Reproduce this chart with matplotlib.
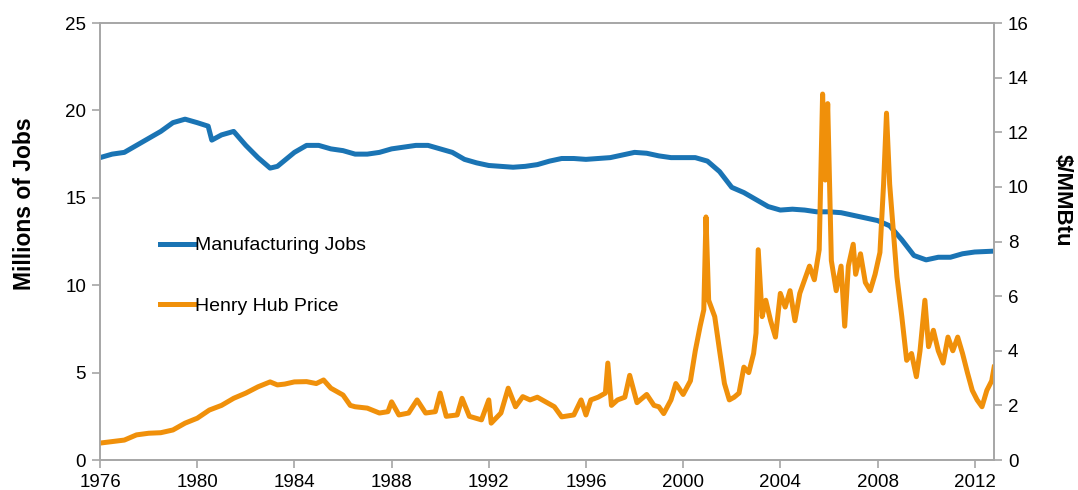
import matplotlib
matplotlib.use("Agg")
import matplotlib.pyplot as plt

plt.rcParams['font.family'] = ['Liberation Sans', 'DejaVu Sans']

# Manufacturing jobs (millions)
jobs_year = [1976.0, 1976.5, 1977.0, 1977.5, 1978.0, 1978.5, 1979.0, 1979.5, 1980.0, 1980.45,
             1980.6, 1981.0, 1981.5, 1982.0, 1982.5, 1983.0, 1983.3, 1984.0, 1984.5, 1985.0,
             1985.5, 1986.0, 1986.5, 1987.0, 1987.5, 1988.0, 1988.5, 1989.0, 1989.5, 1990.0,
             1990.5, 1991.0, 1991.5, 1992.0, 1992.5, 1993.0, 1993.5, 1994.0, 1994.5, 1995.0,
             1995.5, 1996.0, 1996.5, 1997.0, 1997.5, 1998.0, 1998.5, 1999.0, 1999.5, 2000.0,
             2000.5, 2001.0, 2001.5, 2002.0, 2002.5, 2003.0, 2003.5, 2004.0, 2004.5, 2005.0,
             2005.5, 2006.0, 2006.5, 2007.0, 2007.5, 2008.0, 2008.5, 2009.0, 2009.5, 2010.0,
             2010.5, 2011.0, 2011.5, 2012.0, 2012.8]
jobs = [17.3, 17.5, 17.6, 18.0, 18.4, 18.8, 19.3, 19.5, 19.3, 19.1,
        18.3, 18.6, 18.8, 18.0, 17.3, 16.7, 16.8, 17.6, 18.0, 18.0,
        17.8, 17.7, 17.5, 17.5, 17.6, 17.8, 17.9, 18.0, 18.0, 17.8,
        17.6, 17.2, 17.0, 16.85, 16.8, 16.75, 16.8, 16.9, 17.1, 17.25,
        17.25, 17.2, 17.25, 17.3, 17.45, 17.6, 17.55, 17.4, 17.3, 17.3,
        17.3, 17.1, 16.5, 15.6, 15.3, 14.9, 14.5, 14.3, 14.35, 14.3,
        14.2, 14.2, 14.15, 14.0, 13.85, 13.7, 13.4, 12.6, 11.7, 11.45,
        11.6, 11.6, 11.8, 11.9, 11.95]

# Henry Hub price ($/MMBtu)
price_year = [1976.0, 1977.0, 1977.5, 1978.0, 1978.5, 1979.0, 1979.5, 1980.0, 1980.5, 1981.0,
              1981.5, 1982.0, 1982.5, 1983.0, 1983.3, 1983.6, 1984.0, 1984.5, 1984.9, 1985.2,
              1985.5, 1986.0, 1986.3, 1986.5, 1987.0, 1987.5, 1987.85, 1988.0, 1988.3, 1988.7,
              1989.05, 1989.4, 1989.8, 1990.0, 1990.25, 1990.7, 1990.9, 1991.2, 1991.7, 1992.0,
              1992.1, 1992.5, 1992.8, 1993.1, 1993.4, 1993.7, 1994.0, 1994.4, 1994.7, 1995.0,
              1995.5, 1995.8, 1996.0, 1996.2, 1996.5, 1996.8, 1996.9, 1997.05, 1997.3, 1997.6,
              1997.8, 1998.1, 1998.5, 1998.8, 1999.0, 1999.2, 1999.5, 1999.7, 2000.0, 2000.3,
              2000.5, 2000.7, 2000.85, 2000.94, 2001.05, 2001.3, 2001.5, 2001.7, 2001.9, 2002.1,
              2002.3, 2002.5, 2002.7, 2002.9, 2003.0, 2003.09, 2003.25, 2003.4, 2003.6, 2003.8,
              2004.0, 2004.2, 2004.4, 2004.6, 2004.8, 2005.0, 2005.2, 2005.4, 2005.6, 2005.74,
              2005.85, 2005.95, 2006.1, 2006.3, 2006.5, 2006.65, 2006.8, 2007.0, 2007.1, 2007.3,
              2007.5, 2007.7, 2007.9, 2008.1, 2008.25, 2008.37, 2008.5, 2008.8, 2009.0, 2009.2,
              2009.4, 2009.6, 2009.75, 2009.95, 2010.1, 2010.3, 2010.5, 2010.7, 2010.9, 2011.1,
              2011.3, 2011.5, 2011.7, 2011.9, 2012.1, 2012.3, 2012.5, 2012.7, 2012.8]
price = [0.62, 0.73, 0.92, 0.98, 1.0, 1.1, 1.35, 1.53, 1.83, 2.0,
         2.26, 2.45, 2.68, 2.86, 2.75, 2.78, 2.86, 2.87, 2.8, 2.93,
         2.63, 2.38, 2.0, 1.95, 1.9, 1.72, 1.77, 2.13, 1.65, 1.72,
         2.2, 1.72, 1.77, 2.45, 1.6, 1.65, 2.26, 1.6, 1.47, 2.2,
         1.35, 1.72, 2.63, 1.95, 2.32, 2.2, 2.3, 2.1, 1.95, 1.58,
         1.65, 2.2, 1.65, 2.2, 2.3, 2.45, 3.55, 2.0, 2.2, 2.3,
         3.1, 2.1, 2.4, 2.0, 1.95, 1.7, 2.2, 2.8, 2.4, 2.9,
         4.0, 4.9, 5.5, 8.9, 5.85, 5.25, 4.0, 2.8, 2.2, 2.3,
         2.45, 3.4, 3.2, 3.9, 4.65, 7.7, 5.25, 5.85, 5.1, 4.5,
         6.1, 5.6, 6.2, 5.1, 6.1, 6.6, 7.1, 6.6, 7.7, 13.4,
         10.25, 13.05, 7.3, 6.2, 7.1, 4.9, 7.1, 7.9, 6.8, 7.55,
         6.5, 6.2, 6.8, 7.6, 10.1, 12.7, 10.1, 6.7, 5.25, 3.65,
         3.9, 3.05, 4.0, 5.85, 4.15, 4.75, 4.0, 3.55, 4.5, 4.0,
         4.5, 3.9, 3.2, 2.55, 2.2, 1.95, 2.55, 2.9, 3.4]

blue = '#1a74b4'
orange = '#f0900a'
grey = '#a6a6a6'

fig = plt.figure(figsize=(10.78, 4.9), dpi=100)
ax = fig.add_axes([0.0928, 0.0612, 0.8294, 0.8918])
ax2 = ax.twinx()

l1, = ax.plot(jobs_year, jobs, color=blue, lw=3.6, solid_joinstyle='round', label='Manufacturing Jobs')
l2, = ax2.plot(price_year, price, color=orange, lw=3.6, solid_joinstyle='round', label='Henry Hub Price')

ax.set_xlim(1976, 2012.8)
ax.set_ylim(0, 25)
ax2.set_ylim(0, 16)
ax.set_xticks(range(1976, 2013, 4))
ax.set_yticks(range(0, 26, 5))
ax2.set_yticks(range(0, 17, 2))

for a in (ax, ax2):
    for s in a.spines.values():
        s.set_color(grey)
        s.set_linewidth(1.2)
    a.tick_params(axis='both', colors=grey, labelcolor='black', labelsize=13.5,
                  length=6, width=1.2, pad=4)

# axis titles sit a bit above the middle in the original
ax.set_ylabel('Millions of Jobs', fontsize=16.5, fontweight='bold')
ax.yaxis.set_label_coords(-0.072, 0.586)
ax2.set_ylabel('$/MMBtu', fontsize=16, fontweight='bold', rotation=270, va='bottom')
ax2.yaxis.set_label_coords(1.064, 0.595)

ax.legend(handles=[l1, l2], loc='upper left', bbox_to_anchor=(0.047, 0.551), frameon=False,
          fontsize=14, handlelength=1.75, handletextpad=0.05, labelspacing=2.2)

fig.savefig('out.png', dpi=100)
